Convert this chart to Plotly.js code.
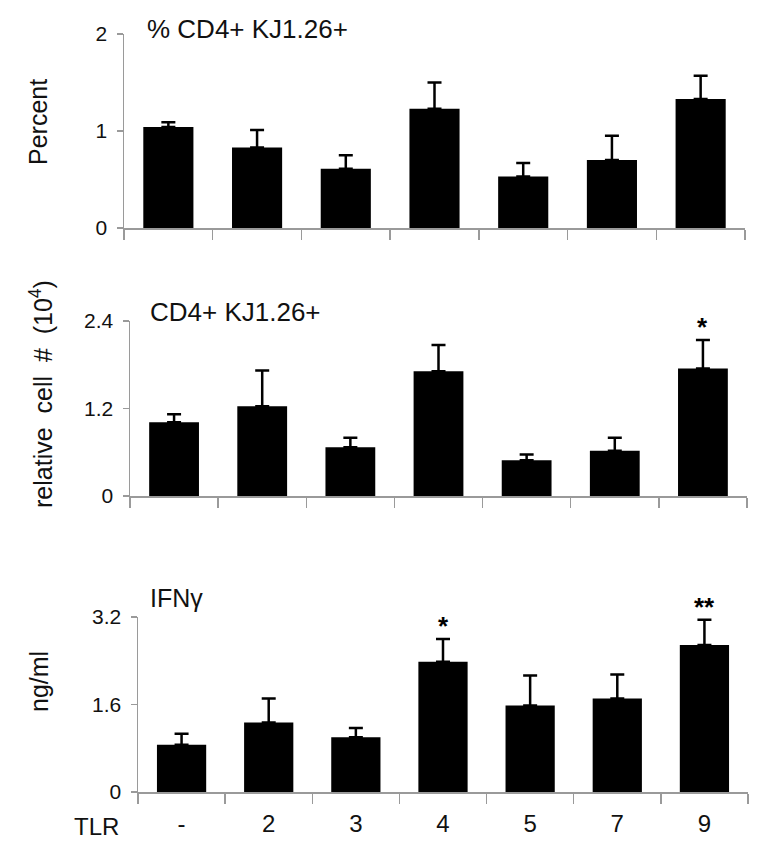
<!DOCTYPE html>
<html>
<head>
<meta charset="utf-8">
<script src="https://cdn.plot.ly/plotly-3.0.1.min.js"></script>
<style>html,body{margin:0;padding:0;background:#fff;}#chart{width:769px;height:848px;}</style>
</head>
<body>
<div id="chart"></div>
<script>
// ---- data ----
const categories = ['-', '2', '3', '4', '5', '7', '9'];
const percentValues = [1.04, 0.83, 0.61, 1.23, 0.53, 0.70, 1.33];
const percentErrors = [0.05, 0.18, 0.14, 0.27, 0.14, 0.25, 0.24];
const cellValues = [1.01, 1.23, 0.67, 1.71, 0.49, 0.62, 1.75];
const cellErrors = [0.11, 0.49, 0.13, 0.36, 0.08, 0.18, 0.39];
const ifnValues = [0.865, 1.27, 1.00, 2.38, 1.58, 1.71, 2.69];
const ifnErrors = [0.20, 0.44, 0.17, 0.42, 0.55, 0.44, 0.46];
const cellStars = ['', '', '', '', '', '', '*'];
const ifnStars = ['', '', '', '*', '', '', '**'];
const yTicks1 = [0, 1, 2];
const yTicks2 = [0, 1.2, 2.4];
const yTicks3 = [0, 1.6, 3.2];
const yTickText1 = ['0', '1', '2'];
const yTickText2 = ['0', '1.2', '2.4'];
const yTickText3 = ['0', '1.6', '3.2'];

// ---- layout helpers ----
const W = 769, H = 848;
const FONT = 'Liberation Sans, Arial, sans-serif';
const px = x => x / W;
const py = y => 1 - y / H;
const AXC = '#9a9a9a';

function barTrace(vals, errs, xa, ya) {
  return {
    type: 'bar', x: categories, y: vals, xaxis: xa, yaxis: ya,
    width: 0.565,
    marker: {color: '#000', line: {width: 0}},
    error_y: {type: 'data', symmetric: false, array: errs,
              arrayminus: errs.map(() => 0), color: '#000', thickness: 2.5, width: 7},
    hoverinfo: 'none', showlegend: false
  };
}

function xAxis(d, anchor, labels) {
  return {
    domain: d, anchor: anchor, type: 'category', range: [-0.5, categories.length - 0.5],
    autorange: false, showgrid: false, zeroline: false,
    showline: true, linecolor: AXC, linewidth: 1.5,
    ticks: 'outside', tickson: 'boundaries', ticklen: 10, tickcolor: AXC, tickwidth: 1.5,
    showticklabels: labels, tickfont: {family: FONT, size: 24, color: '#111'},
    ticklabelstandoff: 10, fixedrange: true
  };
}
function yAxis(d, anchor, range, tv, tt) {
  return {
    domain: d, anchor: anchor, range: range, autorange: false, showgrid: false, zeroline: false,
    showline: true, linecolor: AXC, linewidth: 1.5,
    ticks: 'outside', ticklen: 6, tickcolor: AXC, tickwidth: 1.5,
    tickvals: tv, ticktext: tt, tickfont: {family: FONT, size: 21, color: '#111'},
    ticklabelstandoff: 5, fixedrange: true
  };
}

const data = [
  barTrace(percentValues, percentErrors, 'x', 'y'),
  barTrace(cellValues, cellErrors, 'x2', 'y2'),
  barTrace(ifnValues, ifnErrors, 'x3', 'y3')
];

function textAnn(text, x, y, size, xanchor, angle) {
  return {text: text, xref: 'paper', yref: 'paper', x: px(x), y: py(y),
          xanchor: xanchor, yanchor: 'middle', showarrow: false, textangle: angle || 0,
          font: {family: FONT, size: size, color: '#111'}};
}

const annotations = [
  textAnn('% CD4+ KJ1.26+', 145, 29, 26, 'left'),
  textAnn('CD4+ KJ1.26+', 148, 312, 26, 'left'),
  textAnn('IFN\u03b3', 148, 598, 25, 'left'),
  textAnn('Percent', 38, 122, 25, 'center', -90),
  textAnn('relative  cell  #  (10<sup>4</sup>)', 41, 394, 25, 'center', -90),
  textAnn('ng/ml', 39, 682, 25, 'center', -90),
  textAnn('TLR', 96, 826, 24, 'center')
];
function starAnns(stars, vals, errs, xr, yr) {
  stars.forEach((s, i) => {
    if (!s) return;
    annotations.push({text: s, xref: xr, yref: yr, x: i, y: vals[i] + errs[i],
      xanchor: 'center', yanchor: 'bottom', yshift: -4, showarrow: false,
      font: {family: FONT, size: 26, color: '#000', weight: 'bold'}});
  });
}
starAnns(cellStars, cellValues, cellErrors, 'x2', 'y2');
starAnns(ifnStars, ifnValues, ifnErrors, 'x3', 'y3');

const layout = {
  width: W, height: H, margin: {l: 0, r: 0, t: 0, b: 0},
  paper_bgcolor: '#fff', plot_bgcolor: 'rgba(0,0,0,0)',
  xaxis: xAxis([px(124), px(745)], 'y', false),
  yaxis: yAxis([py(228), py(34)], 'x', [0, 2], yTicks1, yTickText1),
  xaxis2: xAxis([px(130), px(747)], 'y2', false),
  yaxis2: yAxis([py(496), py(321)], 'x2', [0, 2.4], yTicks2, yTickText2),
  xaxis3: xAxis([px(138), px(748)], 'y3', true),
  yaxis3: yAxis([py(792), py(617)], 'x3', [0, 3.2], yTicks3, yTickText3),
  annotations: annotations,
  showlegend: false
};

Plotly.newPlot('chart', data, layout, {displayModeBar: false, staticPlot: true});
</script>
</body>
</html>
